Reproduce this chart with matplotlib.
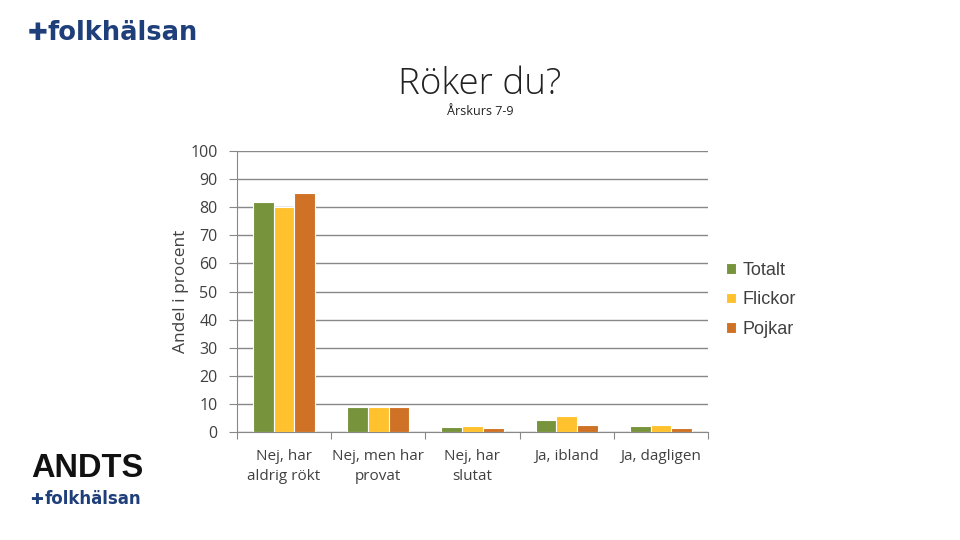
import matplotlib
matplotlib.use("Agg")
import matplotlib.pyplot as plt
import numpy as np

# Data
categories = ["Nej, har\naldrig rökt", "Nej, men har\nprovat", "Nej, har\nslutat", "Ja, ibland", "Ja, dagligen"]
totalt = [82, 9, 1.9, 4.4, 2.2]
flickor = [80, 9, 2.2, 5.8, 2.6]
pojkar = [85, 9, 1.5, 2.6, 1.4]
series_names = ["Totalt", "Flickor", "Pojkar"]
colors = ["#77933C", "#FFC12D", "#D07225"]

fig = plt.figure(figsize=(9.6, 5.4), dpi=100)
ax = fig.add_axes([237 / 960, 108 / 540, 471 / 960, 281 / 540])

x = np.arange(len(categories))
w = 0.22
for i, (vals, name, c) in enumerate(zip([totalt, flickor, pojkar], series_names, colors)):
    ax.bar(x + (i - 1) * w, vals, width=w, color=c, edgecolor="white", linewidth=0.8,
           label=name, zorder=3)

ax.set_xlim(-0.5, len(categories) - 0.5)
ax.set_ylim(0, 100)
ax.set_yticks(range(0, 101, 10))
ax.grid(axis="y", color="#888888", linewidth=1, zorder=0)
for s in ["top", "right"]:
    ax.spines[s].set_visible(False)
ax.spines["left"].set_color("#888888")
ax.spines["bottom"].set_color("#888888")
ax.tick_params(axis="y", direction="out", length=6, color="#888888", labelsize=11.5, pad=8)
# category ticks sit between groups
ax.set_xticks(np.arange(-0.5, len(categories), 1.0))
ax.set_xticklabels([])
ax.set_xticks(x, minor=True)
ax.set_xticklabels(categories, minor=True, fontsize=11, family="Open Sans", color="#404040",
                   linespacing=1.45)
ax.tick_params(axis="x", which="major", direction="out", length=5, color="#888888")
ax.tick_params(axis="x", which="minor", length=0, pad=12)
for lbl in ax.get_yticklabels():
    lbl.set_family("Open Sans")
    lbl.set_color("#404040")
ax.set_ylabel("Andel i procent", fontsize=12.5, family="Open Sans", color="#404040", labelpad=1)

leg = ax.legend(loc="center left", bbox_to_anchor=(1.003, 0.47), frameon=False,
                prop={"family": "Liberation Sans", "size": 13}, handlelength=0.55,
                handleheight=0.55, handletextpad=0.4, labelspacing=0.7)
for t in leg.get_texts():
    t.set_color("#404040")

fig.text(0.5, 0.843, "Röker du?", ha="center", va="center", fontsize=26.5,
         family="Open Sans", fontweight="light", color="#222222")
fig.text(0.5, 0.793, "Årskurs 7-9", ha="center", va="center", fontsize=9,
         family="Open Sans", color="#222222")

# logos as text
blue = "#1F3F7A"
fig.text(0.029, 0.938, "✚", ha="left", va="center", fontsize=17, color=blue, family="DejaVu Sans")
fig.text(0.050, 0.938, "folkhälsan", ha="left", va="center", fontsize=18.5, color=blue,
         family="DejaVu Sans", fontweight="bold")
fig.text(0.033, 0.133, "ANDTS", ha="left", va="center", fontsize=23.5, color="#111111",
         family="Liberation Sans", fontweight="bold")
fig.text(0.031, 0.075, "✚", ha="left", va="center", fontsize=11, color=blue, family="DejaVu Sans")
fig.text(0.046, 0.075, "folkhälsan", ha="left", va="center", fontsize=12, color=blue,
         family="DejaVu Sans", fontweight="bold")

fig.savefig("out.png", dpi=100)
